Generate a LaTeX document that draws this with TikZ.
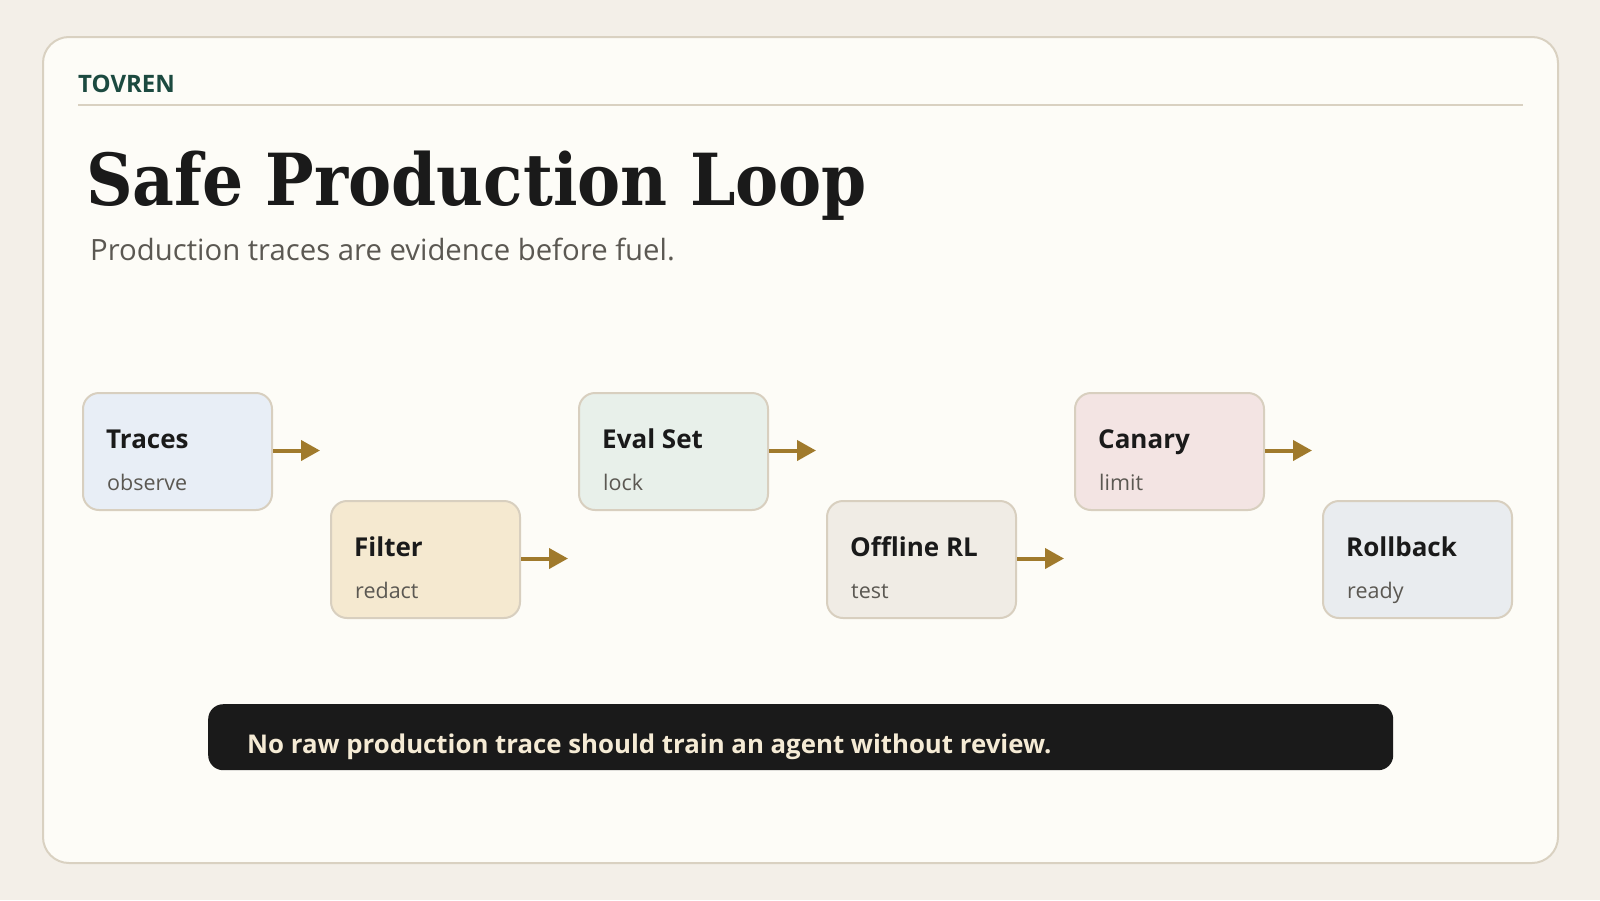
\documentclass[tikz,border=0pt]{standalone}
\usepackage{fontspec}
\setmainfont{Open Sans}
\newfontfamily\titlefont{DejaVu Serif Condensed}
\usetikzlibrary{arrows.meta,calc}
\definecolor{pagebg}{HTML}{F3EFE8}
\definecolor{cardbg}{HTML}{FDFCF7}
\definecolor{cardline}{HTML}{D9D1C1}
\definecolor{brandcol}{HTML}{1C4A40}
\definecolor{inkcol}{HTML}{1A1A1A}
\definecolor{subcol}{HTML}{5B5852}
\definecolor{boxline}{HTML}{D8CFBF}
\definecolor{arrowcol}{HTML}{A07A2C}
\definecolor{barbg}{HTML}{1A1A1A}
\definecolor{bartext}{HTML}{F5EBD5}
\definecolor{fa}{HTML}{E8EEF6}
\definecolor{fb}{HTML}{F5E9D0}
\definecolor{fc}{HTML}{E8F0EA}
\definecolor{fd}{HTML}{F0ECE5}
\definecolor{fe}{HTML}{F3E4E3}
\definecolor{ff}{HTML}{E9ECEF}
\tikzset{
  stage/.style={draw=boxline, line width=2pt, rounded corners=16pt, minimum width=189pt, minimum height=117pt, inner sep=0pt, anchor=north west},
  stagetitle/.style={anchor=base west, inner sep=0pt, text=inkcol, font=\fontsize{26}{30}\selectfont\bfseries},
  stagesub/.style={anchor=base west, inner sep=0pt, text=subcol, font=\fontsize{21.5}{26}\selectfont},
  flow/.style={draw=arrowcol, line width=4pt, -{Triangle[length=19pt,width=20pt]}}
}
\begin{document}
\begin{tikzpicture}[x=1pt,y=-1pt]
\useasboundingbox (0,0) rectangle (1600,900);
\fill[pagebg] (0,0) rectangle (1600,900);
\draw[draw=cardline, fill=cardbg, line width=2pt, rounded corners=26pt] (43,37) rectangle (1558,863);
\node[anchor=base west, inner sep=0pt, text=brandcol, font=\fontsize{24}{30}\selectfont\bfseries] (brand) at (78,92) {TOVREN};
\coordinate (ruleL) at (78,105);
\coordinate (ruleR) at (1523,105);
\draw[cardline, line width=2pt] (ruleL) -- (ruleR);
\node[anchor=base west, inner sep=0pt, text=inkcol, font=\titlefont\fontsize{71.8}{80}\selectfont\bfseries] (title) at (86,205) {Safe Production Loop};
\node[anchor=base west, inner sep=0pt, text=subcol, font=\fontsize{29.3}{34}\selectfont] (subtitle) at (90,260) {Production traces are evidence before fuel.};

\node[stage, fill=fa] (b1) at (82,392) {};
\node[stage, fill=fb] (b2) at (330,500) {};
\node[stage, fill=fc] (b3) at (578,392) {};
\node[stage, fill=fd] (b4) at (826,500) {};
\node[stage, fill=fe] (b5) at (1074,392) {};
\node[stage, fill=ff] (b6) at (1322,500) {};

\node[stagetitle] (t1) at ($(b1.north west)+(24,56)$) {Traces};
\node[stagesub] (s1) at ($(b1.north west)+(25,98)$) {observe};
\node[stagetitle] (t2) at ($(b2.north west)+(24,56)$) {Filter};
\node[stagesub] (s2) at ($(b2.north west)+(25,98)$) {redact};
\node[stagetitle] (t3) at ($(b3.north west)+(24,56)$) {Eval Set};
\node[stagesub] (s3) at ($(b3.north west)+(25,98)$) {lock};
\node[stagetitle] (t4) at ($(b4.north west)+(24,56)$) {Offline RL};
\node[stagesub] (s4) at ($(b4.north west)+(25,98)$) {test};
\node[stagetitle] (t5) at ($(b5.north west)+(24,56)$) {Canary};
\node[stagesub] (s5) at ($(b5.north west)+(25,98)$) {limit};
\node[stagetitle] (t6) at ($(b6.north west)+(24,56)$) {Rollback};
\node[stagesub] (s6) at ($(b6.north west)+(25,98)$) {ready};

\foreach \i in {1,...,5}{
  \coordinate (e\i) at ($(b\i.east)+(47,-1)$);
  \draw[flow] ($(b\i.east)+(0,-1)$) -- (e\i);
}

\node[fill=barbg, rounded corners=15pt, minimum width=1185pt, minimum height=66pt, anchor=north west, inner sep=0pt] (bar) at (208,704) {};
\node[anchor=base west, inner sep=0pt, text=bartext, font=\fontsize{25.8}{30}\selectfont\bfseries] (bartxt) at (247,753) {No raw production trace should train an agent without review.};
\end{tikzpicture}
\end{document}
